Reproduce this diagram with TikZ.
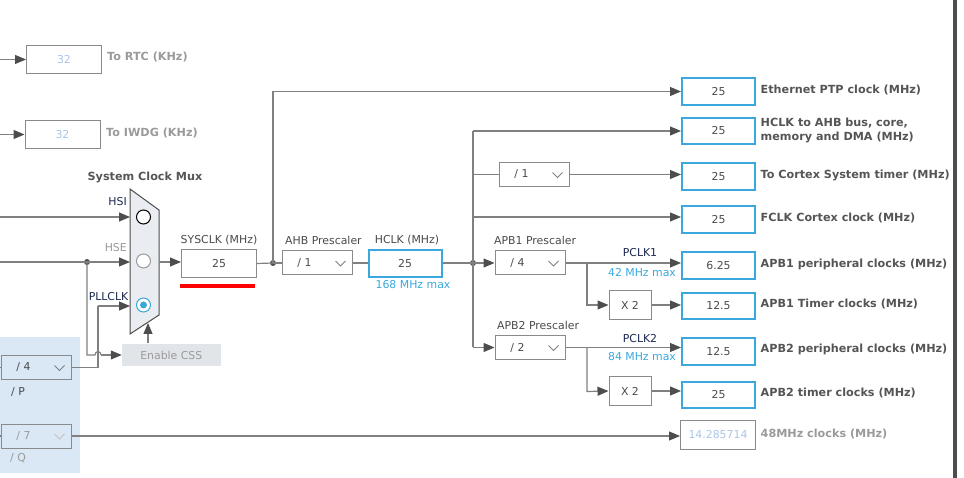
\documentclass[tikz,border=0pt]{standalone}
\usepackage{fontspec}
\setmainfont{DejaVu Sans}
\usetikzlibrary{arrows.meta,calc}
\definecolor{wirec}{HTML}{808080}
\definecolor{tipc}{HTML}{4D4D4D}
\definecolor{cyanb}{HTML}{3AA8DC}
\definecolor{txtc}{HTML}{4A4A4A}
\definecolor{lblc}{HTML}{555555}
\definecolor{disc}{HTML}{9A9A9A}
\definecolor{disval}{HTML}{A9C5E6}
\definecolor{navyc}{HTML}{1C2850}
\definecolor{panelc}{HTML}{DAE8F5}
\definecolor{cssbg}{HTML}{E1E5E9}
\definecolor{muxbg}{HTML}{E9EDF1}
\definecolor{boxb}{HTML}{8A8A8A}
\newcommand{\myrf}{\fontsize{10.9}{13}\selectfont}
\newcommand{\mybf}{\bfseries\fontsize{11.2}{14}\selectfont}
\begin{document}
\begin{tikzpicture}[x=1pt,y=-1pt,
 wire/.style={draw=wirec,line width=1.2pt},
 arr/.style={wire,-{Triangle[length=11pt,width=9pt,color=tipc]}},
 outbox/.style={draw=cyanb,line width=2pt,minimum width=73pt,minimum height=26.5pt,inner sep=0pt,text=txtc,font=\myrf},
 graybox/.style={draw=boxb,line width=1pt,minimum width=75pt,minimum height=28.5pt,inner sep=0pt,text=txtc,font=\myrf},
 disbox/.style={graybox,text=disval},
 dropbox/.style={draw=boxb,line width=1pt,minimum width=70pt,minimum height=24pt,inner sep=0pt},
 x2box/.style={draw=boxb,line width=1pt,minimum width=42pt,minimum height=29pt,inner sep=0pt,text=txtc,font=\myrf},
 rtxt/.style={font=\myrf,text=txtc,inner sep=0pt},
 btxt/.style={font=\mybf,text=lblc,inner sep=0pt,anchor=west,align=left},
 jdot/.style={circle,fill=tipc,inner sep=0pt,minimum size=6pt},
 chev/.style={draw=wirec,line width=1pt},
]
\useasboundingbox (0,0) rectangle (964,478);
% left panel
\fill[panelc] (0,337) rectangle (80,473);
% right border line
\fill[tipc] (953,0) rectangle (956.5,478);

% RTC / IWDG
\node[disbox] (rtc) at (64,59.5) {32};
\node[btxt,text=disc] (rtcl) at (107,57) {To RTC (KHz)};
\coordinate (rtcin) at (0,59.5);
\draw[arr] (rtcin) -- (rtcin -| rtc.west);
\node[disbox] (iwdg) at (62.5,134.5) {32};
\node[btxt,text=disc] (iwdgl) at (106,133) {To IWDG (KHz)};
\coordinate (iwdgin) at (0,134.5);
\draw[arr] (iwdgin) -- (iwdgin -| iwdg.west);

% Mux
\node[font=\mybf,text=lblc,inner sep=0pt] (muxt) at (145,177) {System Clock Mux};
\draw[draw=tipc,fill=muxbg,line width=1pt] (130,189) -- (159,210) -- (159,315) -- (130,334) -- cycle;
\coordinate (muxhsi) at (130,217);
\coordinate (muxhse) at (130,262);
\coordinate (muxpll) at (130,306);
\coordinate (muxout) at (159,262);
\coordinate (muxbot) at (148,323);
\node[circle,draw=black,fill=white,line width=1pt,minimum size=14pt,inner sep=0pt] (chsi) at (143.5,217) {};
\node[circle,draw=disc,fill=white,line width=1pt,minimum size=14pt,inner sep=0pt] (chse) at (143.5,261) {};
\node[circle,draw=cyanb,fill=white,line width=1pt,minimum size=14pt,inner sep=0pt] (cpll) at (143.5,305) {};
\node[circle,fill=cyanb,minimum size=7pt,inner sep=0pt] (cplld) at (cpll) {};
\node[rtxt,text=navyc,anchor=east] (hsil) at (127,202) {HSI};
\node[rtxt,text=disc,anchor=east] (hsel) at (127,248) {HSE};
\node[rtxt,text=navyc,anchor=east] (plll) at (128.5,297) {PLLCLK};

\coordinate (hsiin) at (0,217);
\draw[arr] (hsiin) -- (muxhsi);
\coordinate (hsein) at (0,262);
\node[jdot] (hsedot) at (87,262) {};
\draw[arr] (hsein) -- (muxhse);

% Enable CSS
\node[fill=cssbg,minimum width=98.7pt,minimum height=22.7pt,inner sep=0pt,font=\myrf,text=disc] (css) at (171.3,355) {Enable CSS};
\draw[arr] (css.north -| muxbot) -- (muxbot);
\draw[wire] (hsedot.center) -- (87,355) -- (95,355) .. controls (95,350.5) and (101,350.5) .. (101,355);
\draw[arr] (101,355) -- (css.west);

% PLL dividers
\node[dropbox] (div4) at (36,367.5) {};
\node[rtxt] (div4t) at ($(div4.west)+(23,0)$) {/ 4};
\draw[chev] ($(div4.east)+(-17,-2)$) -- ++(5,5) -- ++(5,-5);
\node[rtxt] (pl) at (18,392) {/ P};
\draw[wire] (0,367.5) -- (div4.west);
\draw[wire] (div4.east) -- (98,367.5) -- (98,306);
\draw[arr] (98,306) -- (muxpll);

\node[dropbox] (div7) at (36,436) {};
\node[rtxt,text=disc] (div7t) at ($(div7.west)+(23,0)$) {/ 7};
\draw[chev,draw=disc!60] ($(div7.east)+(-17,-2)$) -- ++(5,5) -- ++(5,-5);
\node[rtxt,text=disc] (ql) at (18,458) {/ Q};
\draw[wire] (0,436) -- (div7.west);
\node[disbox] (usb) at (718,435) {14.285714};
\node[btxt,text=disc] (usbl) at (760.5,434) {48MHz clocks (MHz)};
\draw[arr] (div7.east) -- (div7.east -| usb.west);

% SYSCLK
\node[graybox] (sys) at (219,263.5) {25};
\node[rtxt] (sysl) at (219,240) {SYSCLK (MHz)};
\node[fill=red,minimum width=75pt,minimum height=4pt,inner sep=0pt] (redbar) at (217.5,286) {};
\draw[arr] (muxout) -- (muxout -| sys.west);
\node[jdot] (sysdot) at (273,263) {};

% Ethernet
\node[outbox] (eth) at (718.5,91.5) {25};
\node[btxt] (ethl) at (760.5,90) {Ethernet PTP clock (MHz)};
\draw[wire] (sys.east) -- (sysdot.center);
\draw[arr] (sysdot.center) -- (273,91.5) -- (eth.west);

% AHB
\node[dropbox] (ahb) at (317,263) {};
\node[rtxt] (ahbt) at ($(ahb.west)+(23,0)$) {/ 1};
\draw[chev] ($(ahb.east)+(-17,-2)$) -- ++(5,5) -- ++(5,-5);
\node[rtxt,anchor=west] (ahbl) at (285,240) {AHB Prescaler};
\draw[wire] (sysdot.center) -- (ahb.west);

\node[outbox] (hclk) at (405,263.5) {25};
\node[rtxt] (hclkl) at (407,240) {HCLK (MHz)};
\node[rtxt,text=cyanb] (hclkm) at (413,284.5) {168 MHz max};
\draw[wire] (ahb.east) -- (ahb.east -| hclk.west);
\node[jdot] (busdot) at (473,263) {};
\draw[wire] (hclk.east |- busdot) -- (busdot.center);

% bus
\coordinate (bustop) at (473,131);
\coordinate (busc) at (473,174.5);
\coordinate (busf) at (473,217);
\coordinate (busbot) at (473,347.5);
\draw[wire] (bustop) -- (busbot);

\node[outbox] (ahbo) at (718.5,131) {25};
\node[btxt] (ahbol) at (760.5,130.5) {HCLK to AHB bus, core,\\memory and DMA (MHz)};
\draw[arr] (bustop) -- (ahbo.west);

\node[dropbox] (cdiv) at (534,174.5) {};
\node[rtxt] (cdivt) at ($(cdiv.west)+(23,0)$) {/ 1};
\draw[chev] ($(cdiv.east)+(-17,-2)$) -- ++(5,5) -- ++(5,-5);
\node[outbox] (cort) at (718.5,176.5) {25};
\node[btxt] (cortl) at (760.5,175) {To Cortex System timer (MHz)};
\draw[wire] (busc) -- (cdiv.west);
\draw[arr] (cdiv.east) -- (cdiv.east -| cort.west);

\node[outbox] (fclk) at (718.5,219.5) {25};
\node[btxt] (fclkl) at (760.5,218) {FCLK Cortex clock (MHz)};
\draw[arr] (busf) -- (busf -| fclk.west);

% APB1
\node[dropbox] (apb1) at (530,263) {};
\node[rtxt] (apb1t) at ($(apb1.west)+(23,0)$) {/ 4};
\draw[chev] ($(apb1.east)+(-17,-2)$) -- ++(5,5) -- ++(5,-5);
\node[rtxt,anchor=west] (apb1l) at (494,240) {APB1 Prescaler};
\draw[arr] (busdot.center) -- (apb1.west);
\node[outbox] (p1) at (718.5,265.5) {6.25};
\node[btxt] (p1l) at (760.5,264) {APB1 peripheral clocks (MHz)};
\draw[arr] (apb1.east) -- (apb1.east -| p1.west);
\node[rtxt,text=navyc] (pclk1) at (640,253) {PCLK1};
\node[rtxt,text=cyanb] (m42) at (642,273) {42 MHz max};
\node[x2box] (x2a) at (630,305) {X 2};
\draw[arr] (587,263) -- (587,305) -- (x2a.west);
\node[outbox] (t1) at (718.5,306) {12.5};
\node[btxt] (t1l) at (760.5,304) {APB1 Timer clocks (MHz)};
\draw[arr] (x2a.east) -- (x2a.east -| t1.west);

% APB2
\node[dropbox] (apb2) at (530,347.5) {};
\node[rtxt] (apb2t) at ($(apb2.west)+(23,0)$) {/ 2};
\draw[chev] ($(apb2.east)+(-17,-2)$) -- ++(5,5) -- ++(5,-5);
\node[rtxt,anchor=west] (apb2l) at (497,325) {APB2 Prescaler};
\draw[arr] (busbot) -- (apb2.west);
\node[outbox] (p2) at (718.5,351.5) {12.5};
\node[btxt] (p2l) at (760.5,349) {APB2 peripheral clocks (MHz)};
\draw[arr] (apb2.east) -- (apb2.east -| p2.west);
\node[rtxt,text=navyc] (pclk2) at (640,339) {PCLK2};
\node[rtxt,text=cyanb] (m84) at (642,356.5) {84 MHz max};
\node[x2box] (x2b) at (630,391) {X 2};
\draw[arr] (587,347.5) -- (587,391.5) -- (x2b.west);
\node[outbox] (t2) at (718.5,395) {25};
\node[btxt] (t2l) at (760.5,393) {APB2 timer clocks (MHz)};
\draw[arr] (x2b.east) -- (x2b.east -| t2.west);
\end{tikzpicture}
\end{document}
